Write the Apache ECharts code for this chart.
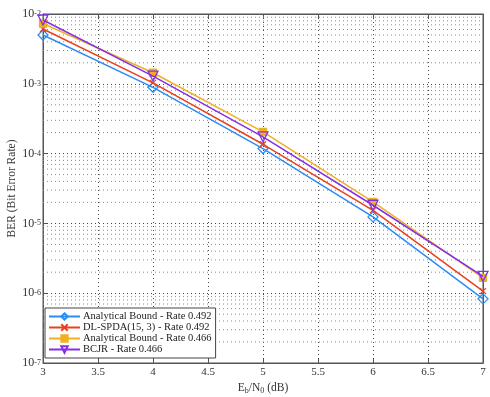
<!DOCTYPE html>
<html><head><meta charset="utf-8">
<script src="https://cdn.jsdelivr.net/npm/echarts@6/dist/echarts.min.js"></script>
<style>html,body{margin:0;padding:0;background:#fff}#c{width:490px;height:397px}</style>
</head><body><div id="c"></div>
<script>
const snr = [3, 4, 5, 6, 7];
const abound492 = [5.0e-3, 8.9e-4, 1.18e-4, 1.24e-5, 8.3e-7];
const dlspda492 = [6.1e-3, 1.03e-3, 1.36e-4, 1.54e-5, 1.07e-6];
const abound466 = [7.3e-3, 1.44e-3, 2.05e-4, 2.03e-5, 1.66e-6];
const bcjr466 = [8.2e-3, 1.29e-3, 1.74e-4, 1.82e-5, 1.74e-6];
const names = ['Analytical Bound - Rate 0.492','DL-SPDA(15, 3) - Rate 0.492','Analytical Bound - Rate 0.466','BCJR - Rate 0.466'];
const colors = ['#2b8cf7','#e8421c','#efb124','#8630e6'];
const xRange = [3, 7];

const minorValues = [];
for (let e = -7; e < -2; e++) for (let k = 2; k <= 9; k++) minorValues.push(k * Math.pow(10, e));

const FONT = 'Liberation Serif';
const pair = a => snr.map((x, i) => [x, a[i]]);
const crossPath = 'path://M0,0L10,10M10,0L0,10';

function mk(i, data, symbol, fill, size, rot) {
  return {
    name: names[i], type: 'line', data: pair(data), symbol: symbol, symbolSize: size,
    symbolRotate: rot || 0, showSymbol: true,
    lineStyle: {color: colors[i], width: 1.5},
    itemStyle: {color: fill, borderColor: colors[i], borderWidth: 1.3},
    z: 5 + i
  };
}

const minorSeries = minorValues.map(v => ({
  type: 'line', data: xRange.map(x => [x, v]), symbol: 'none', silent: true, z: 1,
  lineStyle: {type: [1, 3], color: '#8a8a8a', width: 1}
}));

const chart = echarts.init(document.getElementById('c'));
chart.setOption({
  animation: false,
  textStyle: {fontFamily: FONT},
  grid: {left: 43, right: 7, top: 14, bottom: 34, outerBoundsMode: 'none', containLabel: false,
         show: true, borderColor: '#555', borderWidth: 1, backgroundColor: 'transparent'},
  xAxis: [{
    type: 'value', min: 3, max: 7, interval: 0.5,
    name: 'E{sub|b}/N{sub|0} (dB)', nameLocation: 'middle', nameGap: 18, nameMoveOverlap: false,
    nameTextStyle: {fontFamily: FONT, fontSize: 11.5, color: '#333', rich: {sub: {fontSize: 8, fontFamily: FONT, color:'#333', verticalAlign: 'bottom', padding: [6,0,0,0]}}},
    axisLine: {show: true, lineStyle: {color: '#555'}},
    axisTick: {inside: true, length: 4, lineStyle: {color: '#555'}},
    axisLabel: {fontFamily: FONT, fontSize: 11, color: '#333', margin: 4},
    splitLine: {show: true, lineStyle: {type: [1, 3], color: '#444', width: 1}}
  }, {
    type: 'value', min: 3, max: 7, interval: 0.5, position: 'top',
    axisLine: {show: true, lineStyle: {color: '#555'}},
    axisTick: {inside: true, length: 4, lineStyle: {color: '#555'}},
    axisLabel: {show: false}, splitLine: {show: false}
  }],
  yAxis: [{
    type: 'log', logBase: 10, min: 1e-7, max: 1e-2,
    name: 'BER (Bit Error Rate)', nameLocation: 'middle', nameGap: 25, nameMoveOverlap: false,
    nameTextStyle: {fontFamily: FONT, fontSize: 11.5, color: '#333'},
    axisLine: {show: true, lineStyle: {color: '#555'}},
    axisTick: {inside: true, length: 4, lineStyle: {color: '#555'}},
    axisLabel: {
      fontFamily: FONT, color: '#333', margin: 2,
      formatter: v => '{b|10}{s|' + Math.round(Math.log10(v)) + '}',
      rich: {
        b: {fontSize: 12, lineHeight: 12, fontFamily: FONT, color: '#333', verticalAlign: 'bottom', padding: [4,0,0,0]},
        s: {fontSize: 8, lineHeight: 8, fontFamily: FONT, color: '#333', verticalAlign: 'top', padding: [2,0,0,0]}
      }
    },
    splitLine: {show: true, lineStyle: {type: [1, 3], color: '#444', width: 1}}
  }, {
    type: 'log', logBase: 10, min: 1e-7, max: 1e-2, position: 'right',
    axisLine: {show: true, lineStyle: {color: '#555'}},
    axisTick: {inside: true, length: 4, lineStyle: {color: '#555'}},
    axisLabel: {show: false}, splitLine: {show: false}
  }],
  legend: {
    left: 45, top: 308, orient: 'vertical', itemGap: 0, itemWidth: 31, itemHeight: 8,
    backgroundColor: '#fff', borderColor: '#444', borderWidth: 1, borderRadius: 0,
    padding: [3, 4, 3, 3],
    textStyle: {fontFamily: FONT, fontSize: 10.5, color: '#222', lineHeight: 11, padding: [0,0,0,-2]},
    data: names
  },
  series: minorSeries.concat([
    mk(0, abound492, 'diamond', 'rgba(0,0,0,0)', 10),
    mk(1, dlspda492, crossPath, 'rgba(0,0,0,0)', 6),
    mk(2, abound466, 'rect', colors[2], 7),
    mk(3, bcjr466, 'triangle', 'rgba(0,0,0,0)', 10, 180)
  ])
});
</script></body></html>
